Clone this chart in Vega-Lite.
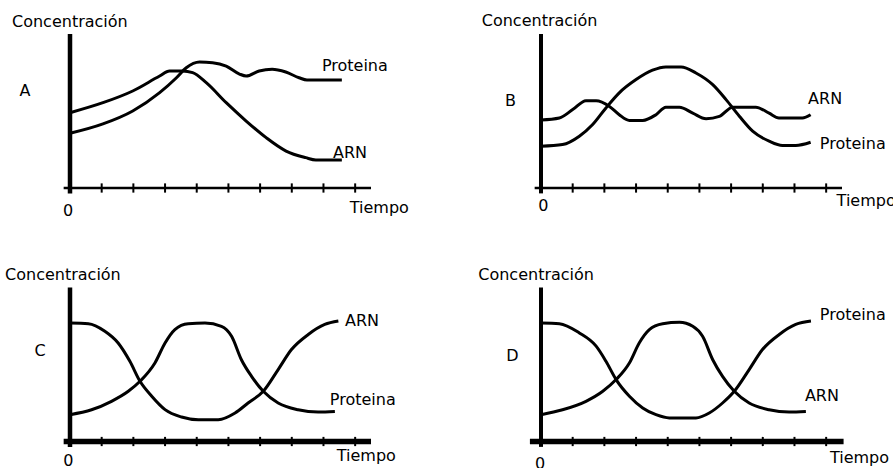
{
  "$schema": "https://vega.github.io/schema/vega-lite/v6.json",
  "padding": {"left": 5, "top": 13, "right": 0, "bottom": 0},
  "background": "white",
  "config": {
    "view": {"stroke": null},
    "rule": {"color": "black"},
    "line": {"color": "black", "strokeWidth": 3, "interpolate": "monotone"},
    "text": {"color": "black", "font": "DejaVu Sans", "fontSize": 16, "align": "left", "baseline": "middle"}
  },
  "data": {"values": [
    {"panel":"A","kind":"frame"},{"panel":"B","kind":"frame"},{"panel":"C","kind":"frame"},{"panel":"D","kind":"frame"},
    {"panel":"A","kind":"tick","time":1},{"panel":"A","kind":"tick","time":2},{"panel":"A","kind":"tick","time":3},{"panel":"A","kind":"tick","time":4},{"panel":"A","kind":"tick","time":5},{"panel":"A","kind":"tick","time":6},{"panel":"A","kind":"tick","time":7},{"panel":"A","kind":"tick","time":8},{"panel":"A","kind":"tick","time":9},
    {"panel":"B","kind":"tick","time":1},{"panel":"B","kind":"tick","time":2},{"panel":"B","kind":"tick","time":3},{"panel":"B","kind":"tick","time":4},{"panel":"B","kind":"tick","time":5},{"panel":"B","kind":"tick","time":6},{"panel":"B","kind":"tick","time":7},{"panel":"B","kind":"tick","time":8},{"panel":"B","kind":"tick","time":9},
    {"panel":"C","kind":"tick","time":1},{"panel":"C","kind":"tick","time":2},{"panel":"C","kind":"tick","time":3},{"panel":"C","kind":"tick","time":4},{"panel":"C","kind":"tick","time":5},{"panel":"C","kind":"tick","time":6},{"panel":"C","kind":"tick","time":7},{"panel":"C","kind":"tick","time":8},{"panel":"C","kind":"tick","time":9},
    {"panel":"D","kind":"tick","time":1},{"panel":"D","kind":"tick","time":2},{"panel":"D","kind":"tick","time":3},{"panel":"D","kind":"tick","time":4},{"panel":"D","kind":"tick","time":5},{"panel":"D","kind":"tick","time":6},{"panel":"D","kind":"tick","time":7},{"panel":"D","kind":"tick","time":8},{"panel":"D","kind":"tick","time":9},

    {"panel":"A","kind":"curve","series":"ARN","time":0,"conc":4.89},{"panel":"A","kind":"curve","series":"ARN","time":1.04,"conc":5.54},{"panel":"A","kind":"curve","series":"ARN","time":1.98,"conc":6.3},{"panel":"A","kind":"curve","series":"ARN","time":2.83,"conc":7.27},{"panel":"A","kind":"curve","series":"ARN","time":3.14,"conc":7.6},{"panel":"A","kind":"curve","series":"ARN","time":3.55,"conc":7.6},{"panel":"A","kind":"curve","series":"ARN","time":3.87,"conc":7.49},{"panel":"A","kind":"curve","series":"ARN","time":4.3,"conc":6.84},{"panel":"A","kind":"curve","series":"ARN","time":4.93,"conc":5.54},{"panel":"A","kind":"curve","series":"ARN","time":5.56,"conc":4.35},{"panel":"A","kind":"curve","series":"ARN","time":6.19,"conc":3.27},{"panel":"A","kind":"curve","series":"ARN","time":6.82,"conc":2.4},{"panel":"A","kind":"curve","series":"ARN","time":7.44,"conc":1.97},{"panel":"A","kind":"curve","series":"ARN","time":7.76,"conc":1.82},{"panel":"A","kind":"curve","series":"ARN","time":8.58,"conc":1.82},
    {"panel":"A","kind":"curve","series":"Proteina","time":0,"conc":3.55},{"panel":"A","kind":"curve","series":"Proteina","time":1.04,"conc":4.16},{"panel":"A","kind":"curve","series":"Proteina","time":1.98,"conc":5.0},{"panel":"A","kind":"curve","series":"Proteina","time":2.83,"conc":6.19},{"panel":"A","kind":"curve","series":"Proteina","time":3.36,"conc":7.16},{"panel":"A","kind":"curve","series":"Proteina","time":3.67,"conc":7.81},{"panel":"A","kind":"curve","series":"Proteina","time":4.09,"conc":8.18},{"panel":"A","kind":"curve","series":"Proteina","time":4.5,"conc":8.14},{"panel":"A","kind":"curve","series":"Proteina","time":4.93,"conc":7.92},{"panel":"A","kind":"curve","series":"Proteina","time":5.35,"conc":7.4},{"panel":"A","kind":"curve","series":"Proteina","time":5.56,"conc":7.27},{"panel":"A","kind":"curve","series":"Proteina","time":5.97,"conc":7.6},{"panel":"A","kind":"curve","series":"Proteina","time":6.38,"conc":7.71},{"panel":"A","kind":"curve","series":"Proteina","time":6.81,"conc":7.53},{"panel":"A","kind":"curve","series":"Proteina","time":7.23,"conc":7.16},{"panel":"A","kind":"curve","series":"Proteina","time":7.48,"conc":7.01},{"panel":"A","kind":"curve","series":"Proteina","time":8.58,"conc":7.01},

    {"panel":"B","kind":"curve","series":"ARN","time":0,"conc":4.42},{"panel":"B","kind":"curve","series":"ARN","time":0.58,"conc":4.55},{"panel":"B","kind":"curve","series":"ARN","time":1.0,"conc":5.09},{"panel":"B","kind":"curve","series":"ARN","time":1.42,"conc":5.67},{"panel":"B","kind":"curve","series":"ARN","time":1.74,"conc":5.67},{"panel":"B","kind":"curve","series":"ARN","time":2.16,"conc":5.3},{"panel":"B","kind":"curve","series":"ARN","time":2.47,"conc":4.76},{"panel":"B","kind":"curve","series":"ARN","time":2.79,"conc":4.39},{"panel":"B","kind":"curve","series":"ARN","time":3.21,"conc":4.39},{"panel":"B","kind":"curve","series":"ARN","time":3.63,"conc":4.76},{"panel":"B","kind":"curve","series":"ARN","time":3.94,"conc":5.25},{"panel":"B","kind":"curve","series":"ARN","time":4.37,"conc":5.25},{"panel":"B","kind":"curve","series":"ARN","time":4.79,"conc":4.86},{"panel":"B","kind":"curve","series":"ARN","time":5.21,"conc":4.5},{"panel":"B","kind":"curve","series":"ARN","time":5.63,"conc":4.65},{"panel":"B","kind":"curve","series":"ARN","time":6.05,"conc":5.25},{"panel":"B","kind":"curve","series":"ARN","time":6.78,"conc":5.25},{"panel":"B","kind":"curve","series":"ARN","time":7.2,"conc":4.86},{"panel":"B","kind":"curve","series":"ARN","time":7.51,"conc":4.55},{"panel":"B","kind":"curve","series":"ARN","time":8.25,"conc":4.55},{"panel":"B","kind":"curve","series":"ARN","time":8.51,"conc":4.76},
    {"panel":"B","kind":"curve","series":"Proteina","time":0,"conc":2.71},{"panel":"B","kind":"curve","series":"Proteina","time":0.68,"conc":2.82},{"panel":"B","kind":"curve","series":"Proteina","time":1.21,"conc":3.36},{"panel":"B","kind":"curve","series":"Proteina","time":1.63,"conc":4.12},{"panel":"B","kind":"curve","series":"Proteina","time":2.05,"conc":5.2},{"panel":"B","kind":"curve","series":"Proteina","time":2.47,"conc":6.18},{"panel":"B","kind":"curve","series":"Proteina","time":3.0,"conc":7.04},{"panel":"B","kind":"curve","series":"Proteina","time":3.52,"conc":7.65},{"panel":"B","kind":"curve","series":"Proteina","time":3.94,"conc":7.86},{"panel":"B","kind":"curve","series":"Proteina","time":4.42,"conc":7.86},{"panel":"B","kind":"curve","series":"Proteina","time":4.89,"conc":7.47},{"panel":"B","kind":"curve","series":"Proteina","time":5.42,"conc":6.71},{"panel":"B","kind":"curve","series":"Proteina","time":5.84,"conc":5.74},{"panel":"B","kind":"curve","series":"Proteina","time":6.26,"conc":4.66},{"panel":"B","kind":"curve","series":"Proteina","time":6.68,"conc":3.69},{"panel":"B","kind":"curve","series":"Proteina","time":7.2,"conc":3.04},{"panel":"B","kind":"curve","series":"Proteina","time":7.62,"conc":2.76},{"panel":"B","kind":"curve","series":"Proteina","time":8.04,"conc":2.76},{"panel":"B","kind":"curve","series":"Proteina","time":8.51,"conc":2.97},

    {"panel":"C","kind":"curve","series":"ARN","time":0,"conc":7.69},{"panel":"C","kind":"curve","series":"ARN","time":0.58,"conc":7.65},{"panel":"C","kind":"curve","series":"ARN","time":1.1,"conc":7.16},{"panel":"C","kind":"curve","series":"ARN","time":1.52,"conc":6.4},{"panel":"C","kind":"curve","series":"ARN","time":1.89,"conc":5.21},{"panel":"C","kind":"curve","series":"ARN","time":2.21,"conc":3.91},{"panel":"C","kind":"curve","series":"ARN","time":2.58,"conc":2.94},{"panel":"C","kind":"curve","series":"ARN","time":3.0,"conc":2.07},{"panel":"C","kind":"curve","series":"ARN","time":3.52,"conc":1.59},{"panel":"C","kind":"curve","series":"ARN","time":4.05,"conc":1.42},{"panel":"C","kind":"curve","series":"ARN","time":4.68,"conc":1.42},{"panel":"C","kind":"curve","series":"ARN","time":5.21,"conc":1.85},{"panel":"C","kind":"curve","series":"ARN","time":5.62,"conc":2.5},{"panel":"C","kind":"curve","series":"ARN","time":6.1,"conc":3.26},{"panel":"C","kind":"curve","series":"ARN","time":6.57,"conc":4.67},{"panel":"C","kind":"curve","series":"ARN","time":6.99,"conc":5.97},{"panel":"C","kind":"curve","series":"ARN","time":7.52,"conc":6.95},{"panel":"C","kind":"curve","series":"ARN","time":8.04,"conc":7.6},{"panel":"C","kind":"curve","series":"ARN","time":8.47,"conc":7.82},
    {"panel":"C","kind":"curve","series":"Proteina","time":0,"conc":1.74},{"panel":"C","kind":"curve","series":"Proteina","time":0.68,"conc":2.06},{"panel":"C","kind":"curve","series":"Proteina","time":1.31,"conc":2.61},{"panel":"C","kind":"curve","series":"Proteina","time":1.84,"conc":3.26},{"panel":"C","kind":"curve","series":"Proteina","time":2.21,"conc":3.91},{"panel":"C","kind":"curve","series":"Proteina","time":2.68,"conc":5.1},{"panel":"C","kind":"curve","series":"Proteina","time":3.0,"conc":6.4},{"panel":"C","kind":"curve","series":"Proteina","time":3.31,"conc":7.27},{"panel":"C","kind":"curve","series":"Proteina","time":3.73,"conc":7.65},{"panel":"C","kind":"curve","series":"Proteina","time":4.26,"conc":7.69},{"panel":"C","kind":"curve","series":"Proteina","time":4.78,"conc":7.48},{"panel":"C","kind":"curve","series":"Proteina","time":5.1,"conc":6.83},{"panel":"C","kind":"curve","series":"Proteina","time":5.41,"conc":5.31},{"panel":"C","kind":"curve","series":"Proteina","time":5.73,"conc":4.23},{"panel":"C","kind":"curve","series":"Proteina","time":6.1,"conc":3.26},{"panel":"C","kind":"curve","series":"Proteina","time":6.57,"conc":2.5},{"panel":"C","kind":"curve","series":"Proteina","time":7.2,"conc":2.06},{"panel":"C","kind":"curve","series":"Proteina","time":7.83,"conc":1.91},{"panel":"C","kind":"curve","series":"Proteina","time":8.36,"conc":1.95},

    {"panel":"D","kind":"curve","series":"Proteina","time":0,"conc":7.69},{"panel":"D","kind":"curve","series":"Proteina","time":0.58,"conc":7.65},{"panel":"D","kind":"curve","series":"Proteina","time":1.21,"conc":7.05},{"panel":"D","kind":"curve","series":"Proteina","time":1.74,"conc":6.19},{"panel":"D","kind":"curve","series":"Proteina","time":2.05,"conc":5.21},{"panel":"D","kind":"curve","series":"Proteina","time":2.37,"conc":4.02},{"panel":"D","kind":"curve","series":"Proteina","time":2.79,"conc":2.94},{"panel":"D","kind":"curve","series":"Proteina","time":3.21,"conc":2.18},{"panel":"D","kind":"curve","series":"Proteina","time":3.63,"conc":1.74},{"panel":"D","kind":"curve","series":"Proteina","time":4.05,"conc":1.53},{"panel":"D","kind":"curve","series":"Proteina","time":4.89,"conc":1.53},{"panel":"D","kind":"curve","series":"Proteina","time":5.31,"conc":1.85},{"panel":"D","kind":"curve","series":"Proteina","time":5.73,"conc":2.5},{"panel":"D","kind":"curve","series":"Proteina","time":6.1,"conc":3.26},{"panel":"D","kind":"curve","series":"Proteina","time":6.57,"conc":4.67},{"panel":"D","kind":"curve","series":"Proteina","time":6.99,"conc":5.97},{"panel":"D","kind":"curve","series":"Proteina","time":7.52,"conc":6.95},{"panel":"D","kind":"curve","series":"Proteina","time":8.04,"conc":7.6},{"panel":"D","kind":"curve","series":"Proteina","time":8.52,"conc":7.82},
    {"panel":"D","kind":"curve","series":"ARN","time":0,"conc":1.74},{"panel":"D","kind":"curve","series":"ARN","time":0.68,"conc":2.06},{"panel":"D","kind":"curve","series":"ARN","time":1.42,"conc":2.61},{"panel":"D","kind":"curve","series":"ARN","time":1.95,"conc":3.26},{"panel":"D","kind":"curve","series":"ARN","time":2.37,"conc":4.02},{"panel":"D","kind":"curve","series":"ARN","time":2.79,"conc":5.1},{"panel":"D","kind":"curve","series":"ARN","time":3.1,"conc":6.4},{"panel":"D","kind":"curve","series":"ARN","time":3.42,"conc":7.27},{"panel":"D","kind":"curve","series":"ARN","time":3.84,"conc":7.65},{"panel":"D","kind":"curve","series":"ARN","time":4.37,"conc":7.74},{"panel":"D","kind":"curve","series":"ARN","time":4.79,"conc":7.48},{"panel":"D","kind":"curve","series":"ARN","time":5.1,"conc":6.83},{"panel":"D","kind":"curve","series":"ARN","time":5.42,"conc":5.31},{"panel":"D","kind":"curve","series":"ARN","time":5.73,"conc":4.23},{"panel":"D","kind":"curve","series":"ARN","time":6.1,"conc":3.26},{"panel":"D","kind":"curve","series":"ARN","time":6.57,"conc":2.5},{"panel":"D","kind":"curve","series":"ARN","time":7.2,"conc":2.06},{"panel":"D","kind":"curve","series":"ARN","time":7.83,"conc":1.91},{"panel":"D","kind":"curve","series":"ARN","time":8.36,"conc":1.95},

    {"panel":"A","kind":"label","text":"Concentración","time":-1.83,"conc":10.78},{"panel":"A","kind":"label","text":"A","time":-1.59,"conc":6.3},{"panel":"A","kind":"label","text":"Proteina","time":7.95,"conc":7.92},{"panel":"A","kind":"label","text":"ARN","time":8.3,"conc":2.27},{"panel":"A","kind":"label","text":"0","time":-0.22,"conc":-1.49},{"panel":"A","kind":"label","text":"Tiempo","time":8.83,"conc":-1.3},
    {"panel":"B","kind":"label","text":"Concentración","time":-1.87,"conc":10.84},{"panel":"B","kind":"label","text":"B","time":-1.14,"conc":5.65},{"panel":"B","kind":"label","text":"ARN","time":8.43,"conc":5.76},{"panel":"B","kind":"label","text":"Proteina","time":8.8,"conc":2.84},{"panel":"B","kind":"label","text":"0","time":-0.09,"conc":-1.17},{"panel":"B","kind":"label","text":"Tiempo","time":9.33,"conc":-0.84},
    {"panel":"C","kind":"label","text":"Concentración","time":-2.05,"conc":10.83},{"panel":"C","kind":"label","text":"C","time":-1.12,"conc":5.86},{"panel":"C","kind":"label","text":"ARN","time":8.68,"conc":7.81},{"panel":"C","kind":"label","text":"Proteina","time":8.2,"conc":2.71},{"panel":"C","kind":"label","text":"0","time":-0.21,"conc":-1.29},{"panel":"C","kind":"label","text":"Tiempo","time":8.42,"conc":-0.92},
    {"panel":"D","kind":"label","text":"Concentración","time":-1.98,"conc":10.83},{"panel":"D","kind":"label","text":"D","time":-1.1,"conc":5.53},{"panel":"D","kind":"label","text":"Proteina","time":8.8,"conc":8.23},{"panel":"D","kind":"label","text":"ARN","time":8.33,"conc":2.94},{"panel":"D","kind":"label","text":"0","time":-0.19,"conc":-1.45},{"panel":"D","kind":"label","text":"Tiempo","time":9.12,"conc":-1.1}
  ]},
  "columns": 2,
  "spacing": {"row": 99.5, "column": 170},
  "bounds": "flush",
  "concat": [
    {
      "width": 301, "height": 154,
      "transform": [{"filter": "datum.panel === 'A'"}],
      "layer": [
        {"transform": [{"filter": "datum.kind === 'frame'"}], "mark": {"type": "rule", "strokeWidth": 4.5},
         "encoding": {"x": {"datum": 0, "type": "quantitative", "scale": {"domain": [0, 9.5], "nice": false, "zero": false}, "axis": null},
                      "y": {"datum": -0.35, "type": "quantitative", "scale": {"domain": [0, 10], "nice": false, "zero": false}, "axis": null}, "y2": {"datum": 10}}},
        {"transform": [{"filter": "datum.kind === 'frame'"}], "mark": {"type": "rule", "strokeWidth": 2.5},
         "encoding": {"x": {"datum": -0.2, "type": "quantitative", "axis": null}, "x2": {"datum": 9.5}, "y": {"datum": 0, "type": "quantitative", "axis": null}}},
        {"transform": [{"filter": "datum.kind === 'tick'"}], "mark": {"type": "rule", "strokeWidth": 2},
         "encoding": {"x": {"field": "time", "type": "quantitative", "axis": null}, "y": {"datum": -0.3, "type": "quantitative", "axis": null}, "y2": {"datum": 0.3}}},
        {"transform": [{"filter": "datum.kind === 'curve'"}], "mark": {"type": "line"},
         "encoding": {"x": {"field": "time", "type": "quantitative", "axis": null}, "y": {"field": "conc", "type": "quantitative", "axis": null}, "detail": {"field": "series", "type": "nominal"}}},
        {"transform": [{"filter": "datum.kind === 'label'"}], "mark": {"type": "text"},
         "encoding": {"x": {"field": "time", "type": "quantitative", "axis": null}, "y": {"field": "conc", "type": "quantitative", "axis": null}, "text": {"field": "text", "type": "nominal"}}}
      ]
    },
    {
      "width": 301, "height": 154,
      "transform": [{"filter": "datum.panel === 'B'"}],
      "layer": [
        {"transform": [{"filter": "datum.kind === 'frame'"}], "mark": {"type": "rule", "strokeWidth": 4},
         "encoding": {"x": {"datum": 0, "type": "quantitative", "scale": {"domain": [0, 9.5], "nice": false, "zero": false}, "axis": null},
                      "y": {"datum": -0.35, "type": "quantitative", "scale": {"domain": [0, 10], "nice": false, "zero": false}, "axis": null}, "y2": {"datum": 10}}},
        {"transform": [{"filter": "datum.kind === 'frame'"}], "mark": {"type": "rule", "strokeWidth": 2.5},
         "encoding": {"x": {"datum": -0.2, "type": "quantitative", "axis": null}, "x2": {"datum": 9.5}, "y": {"datum": 0, "type": "quantitative", "axis": null}}},
        {"transform": [{"filter": "datum.kind === 'tick'"}], "mark": {"type": "rule", "strokeWidth": 2},
         "encoding": {"x": {"field": "time", "type": "quantitative", "axis": null}, "y": {"datum": -0.3, "type": "quantitative", "axis": null}, "y2": {"datum": 0.3}}},
        {"transform": [{"filter": "datum.kind === 'curve'"}], "mark": {"type": "line"},
         "encoding": {"x": {"field": "time", "type": "quantitative", "axis": null}, "y": {"field": "conc", "type": "quantitative", "axis": null}, "detail": {"field": "series", "type": "nominal"}}},
        {"transform": [{"filter": "datum.kind === 'label'"}], "mark": {"type": "text"},
         "encoding": {"x": {"field": "time", "type": "quantitative", "axis": null}, "y": {"field": "conc", "type": "quantitative", "axis": null}, "text": {"field": "text", "type": "nominal"}}}
      ]
    },
    {
      "width": 301, "height": 154,
      "transform": [{"filter": "datum.panel === 'C'"}],
      "layer": [
        {"transform": [{"filter": "datum.kind === 'frame'"}], "mark": {"type": "rule", "strokeWidth": 4.5},
         "encoding": {"x": {"datum": 0, "type": "quantitative", "scale": {"domain": [0, 9.5], "nice": false, "zero": false}, "axis": null},
                      "y": {"datum": -0.35, "type": "quantitative", "scale": {"domain": [0, 10], "nice": false, "zero": false}, "axis": null}, "y2": {"datum": 10}}},
        {"transform": [{"filter": "datum.kind === 'frame'"}], "mark": {"type": "rule", "strokeWidth": 5.5},
         "encoding": {"x": {"datum": -0.2, "type": "quantitative", "axis": null}, "x2": {"datum": 9.5}, "y": {"datum": 0, "type": "quantitative", "axis": null}}},
        {"transform": [{"filter": "datum.kind === 'tick'"}], "mark": {"type": "rule", "strokeWidth": 2},
         "encoding": {"x": {"field": "time", "type": "quantitative", "axis": null}, "y": {"datum": -0.3, "type": "quantitative", "axis": null}, "y2": {"datum": 0.3}}},
        {"transform": [{"filter": "datum.kind === 'curve'"}], "mark": {"type": "line"},
         "encoding": {"x": {"field": "time", "type": "quantitative", "axis": null}, "y": {"field": "conc", "type": "quantitative", "axis": null}, "detail": {"field": "series", "type": "nominal"}}},
        {"transform": [{"filter": "datum.kind === 'label'"}], "mark": {"type": "text"},
         "encoding": {"x": {"field": "time", "type": "quantitative", "axis": null}, "y": {"field": "conc", "type": "quantitative", "axis": null}, "text": {"field": "text", "type": "nominal"}}}
      ]
    },
    {
      "width": 301, "height": 154,
      "transform": [{"filter": "datum.panel === 'D'"}],
      "layer": [
        {"transform": [{"filter": "datum.kind === 'frame'"}], "mark": {"type": "rule", "strokeWidth": 4},
         "encoding": {"x": {"datum": 0, "type": "quantitative", "scale": {"domain": [0, 9.5], "nice": false, "zero": false}, "axis": null},
                      "y": {"datum": -0.35, "type": "quantitative", "scale": {"domain": [0, 10], "nice": false, "zero": false}, "axis": null}, "y2": {"datum": 10}}},
        {"transform": [{"filter": "datum.kind === 'frame'"}], "mark": {"type": "rule", "strokeWidth": 5.5},
         "encoding": {"x": {"datum": -0.35, "type": "quantitative", "axis": null}, "x2": {"datum": 9.55}, "y": {"datum": 0, "type": "quantitative", "axis": null}}},
        {"transform": [{"filter": "datum.kind === 'tick'"}], "mark": {"type": "rule", "strokeWidth": 2},
         "encoding": {"x": {"field": "time", "type": "quantitative", "axis": null}, "y": {"datum": -0.3, "type": "quantitative", "axis": null}, "y2": {"datum": 0.3}}},
        {"transform": [{"filter": "datum.kind === 'curve'"}], "mark": {"type": "line"},
         "encoding": {"x": {"field": "time", "type": "quantitative", "axis": null}, "y": {"field": "conc", "type": "quantitative", "axis": null}, "detail": {"field": "series", "type": "nominal"}}},
        {"transform": [{"filter": "datum.kind === 'label'"}], "mark": {"type": "text"},
         "encoding": {"x": {"field": "time", "type": "quantitative", "axis": null}, "y": {"field": "conc", "type": "quantitative", "axis": null}, "text": {"field": "text", "type": "nominal"}}}
      ]
    }
  ]
}
